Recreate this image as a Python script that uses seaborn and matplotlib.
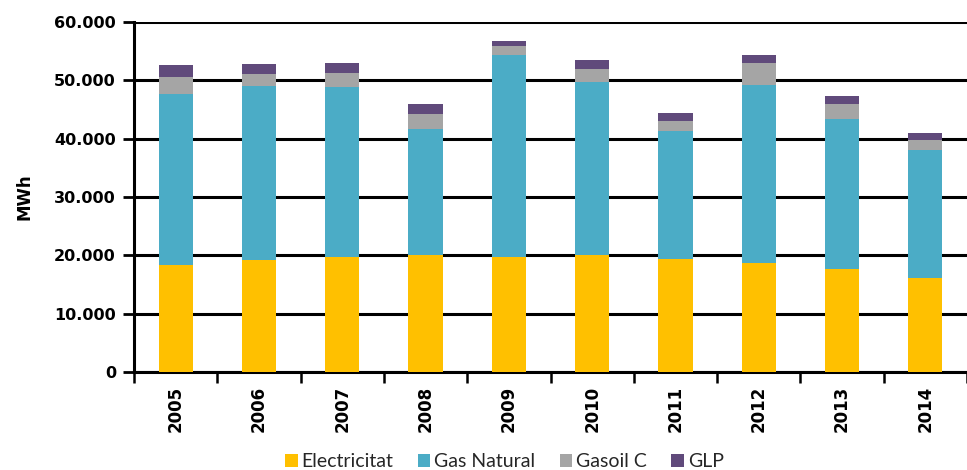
import matplotlib
matplotlib.use("Agg")
import matplotlib.pyplot as plt
import matplotlib.ticker as mticker
from matplotlib.patches import Patch
import seaborn as sns
import numpy as np

years = ["2005", "2006", "2007", "2008", "2009", "2010", "2011", "2012", "2013", "2014"]
electricitat = [18300, 19200, 19670, 20020, 19670, 20070, 19430, 18750, 17670, 16120]
gas_natural = [29440, 29860, 29220, 21610, 34700, 29670, 21960, 30530, 25670, 21960]
gasoil_c = [2860, 2000, 2400, 2620, 1490, 2180, 1710, 3770, 2630, 1770]
glp = [2000, 1770, 1760, 1720, 920, 1540, 1320, 1320, 1320, 1090]

series_names = ["Electricitat", "Gas Natural", "Gasoil C", "GLP"]
series_values = [electricitat, gas_natural, gasoil_c, glp]
colors = ["#FFC000", "#4BACC6", "#A5A5A5", "#604A7B"]

sns.set_theme(style="white")
plt.rcParams['font.family'] = ['DejaVu Sans']

fig = plt.figure(figsize=(9.67, 4.70), dpi=100)
ax = fig.add_axes([0.1386, 0.2085, 0.8614, 0.7447])

bottom = np.zeros(len(years))
for name, vals, col in zip(series_names, series_values, colors):
    sns.barplot(x=years, y=vals, bottom=bottom, color=col, width=0.41,
                ax=ax, saturation=1, linewidth=0, zorder=3)
    bottom = bottom + np.array(vals)

ax.set_ylim(0, 60000)
ax.set_xlim(-0.5, 9.5)
ax.set_yticks(np.arange(0, 60001, 10000))
ax.yaxis.set_major_formatter(mticker.FuncFormatter(lambda v, p: f"{int(v):,}".replace(",", ".")))
ax.grid(axis='y', color='black', linewidth=2.2, zorder=0)
ax.set_axisbelow(True)

for s in ["top", "right"]:
    ax.spines[s].set_visible(False)
for s in ["left", "bottom"]:
    ax.spines[s].set_color("black")
    ax.spines[s].set_linewidth(2.2)

ax.tick_params(axis='y', which='major', left=True, length=8, width=2, color='black',
               labelsize=11.5, pad=5)
ax.tick_params(axis='x', which='major', bottom=False, length=0, labelsize=12, pad=10, rotation=90)
ax.set_xticks(np.arange(-0.5, 10, 1), minor=True)
ax.tick_params(axis='x', which='minor', bottom=True, length=8, width=1.8, color='black')
for lbl in ax.get_yticklabels() + ax.get_xticklabels():
    lbl.set_fontweight('bold')
    lbl.set_color('black')

ax.set_ylabel("MWh", fontsize=12, fontweight='bold', color='black', labelpad=15)
ax.set_xlabel("")

handles = [Patch(facecolor=c, edgecolor='none') for c in colors]
fig.legend(handles, series_names, loc='center', bbox_to_anchor=(0.5217, 0.018),
           ncol=4, frameon=False, prop={'family': 'Lato', 'size': 14},
           handlelength=0.65, handleheight=0.65, handletextpad=0.2, columnspacing=1.25,
           borderpad=0, borderaxespad=0)

fig.savefig("out.png", dpi=100)
